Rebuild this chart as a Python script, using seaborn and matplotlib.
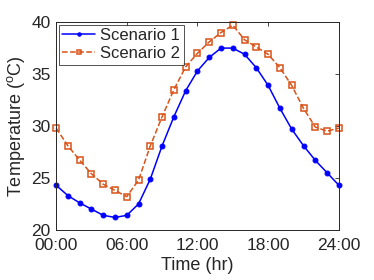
import numpy as np
import matplotlib
matplotlib.use("Agg")
import matplotlib.pyplot as plt
import seaborn as sns

# hourly temperatures
hours = list(range(25))
scenario1 = [24.3, 23.3, 22.6, 22.0, 21.4, 21.2, 21.4, 22.5, 24.9, 28.1, 30.9, 33.4, 35.3,
             36.6, 37.5, 37.5, 36.9, 35.6, 33.9, 31.7, 29.7, 28.1, 26.7, 25.5, 24.3]
scenario2 = [29.8, 28.1, 26.7, 25.4, 24.4, 23.8, 23.2, 24.8, 28.1, 30.9, 33.5, 35.7, 37.0,
             38.1, 39.0, 39.7, 38.3, 37.6, 36.9, 35.6, 33.9, 31.7, 29.9, 29.5, 29.8]
xticks = [0, 6, 12, 18, 24]
xticklabels = ['00:00', '06:00', '12:00', '18:00', '24:00']
yticks = [20, 25, 30, 35, 40]

sns.set_style('white')
plt.rcParams['font.family'] = ['Liberation Sans', 'DejaVu Sans']
plt.rcParams['mathtext.fontset'] = 'custom'
plt.rcParams['mathtext.rm'] = 'Liberation Sans'

fig = plt.figure(figsize=(3.74, 2.8), dpi=100)
ax = fig.add_axes([0.150, 0.179, 0.756, 0.742])

blue = (0, 0, 1)
orange = (0.85, 0.325, 0.098)
sns.lineplot(x=hours, y=scenario1, ax=ax, color=blue, lw=1.1, marker='o', markersize=3.5,
             markeredgecolor=blue, label='Scenario 1', clip_on=False)
sns.lineplot(x=hours, y=scenario2, ax=ax, color=orange, lw=1.1, linestyle='--', marker='s',
             markersize=4, markerfacecolor='none', markeredgecolor=orange,
             markeredgewidth=1.1, label='Scenario 2', clip_on=False)

ax.set_xlim(0, 24)
ax.set_ylim(20, 40)
ax.set_xticks(xticks)
ax.set_xticklabels(xticklabels)
ax.set_yticks(yticks)
ax.tick_params(direction='in', length=3, width=0.6, colors='0.15', labelsize=12.5,
               top=True, right=True)
ax.tick_params(axis='x', pad=6)
ax.tick_params(axis='y', pad=4)
for s in ax.spines.values():
    s.set_color('0.15')
    s.set_linewidth(0.7)
ax.set_xlabel('Time (hr)', fontsize=13, color='0.15', labelpad=3)
ax.set_ylabel(r'Temperature ($^{\rm o}$C)', fontsize=13, color='0.15', labelpad=3)

leg = ax.legend(loc='upper left', fontsize=12, frameon=True, fancybox=False,
                borderpad=0.2, handlelength=2.0, handletextpad=0.3, labelspacing=0.2,
                borderaxespad=0.15, markerscale=0.7)
leg.get_frame().set_edgecolor('0.15')
leg.get_frame().set_linewidth(0.7)

plt.savefig('out.png', dpi=100)
